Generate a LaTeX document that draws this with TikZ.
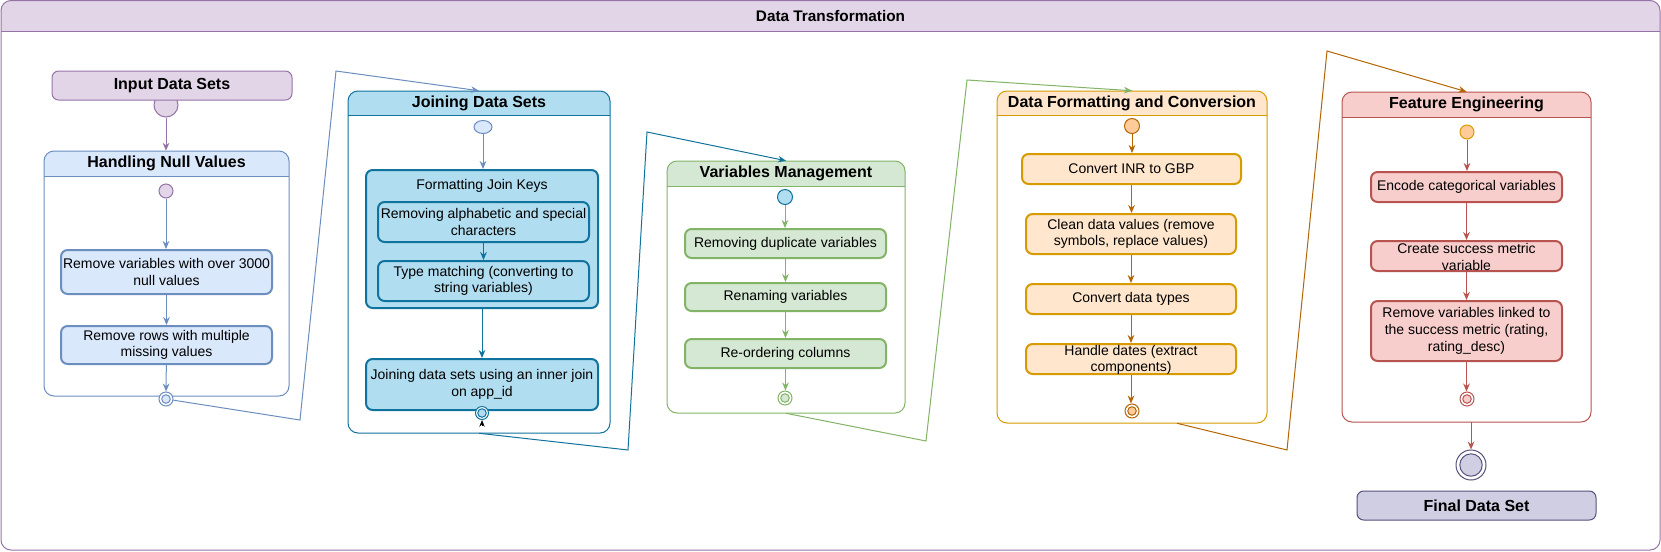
\documentclass[tikz,border=0pt]{standalone}
\usepackage{fontspec}
\setmainfont{Liberation Sans}
\usetikzlibrary{arrows.meta,fit,calc,shapes.geometric}
\definecolor{puL}{HTML}{E1D5E7}\definecolor{puD}{HTML}{9673A6}
\definecolor{blL}{HTML}{DAE8FC}\definecolor{blD}{HTML}{6C8EBF}
\definecolor{tlL}{HTML}{B1DDF0}\definecolor{tlD}{HTML}{10739E}
\definecolor{grL}{HTML}{D5E8D4}\definecolor{grD}{HTML}{82B366}
\definecolor{orL}{HTML}{FFE6CC}\definecolor{orD}{HTML}{D79B00}
\definecolor{orB}{HTML}{B46504}\definecolor{orM}{HTML}{FFCC99}
\definecolor{rdL}{HTML}{F8CECC}\definecolor{rdD}{HTML}{B85450}
\definecolor{lvL}{HTML}{D0CEE2}\definecolor{lvD}{HTML}{56517E}
\tikzset{
 hdr/.style={font=\fontsize{12}{14}\selectfont\bfseries, inner sep=0},
 body/.style={font=\fontsize{10.5}{12.5}\selectfont, align=center, inner sep=0},
 bx/.style 2 args={draw=#2, fill=#1, line width=1.5pt, rounded corners=5pt, align=center,
   font=\fontsize{10.5}{12.5}\selectfont, inner sep=1pt},
 sz/.style 2 args={minimum width=#1*0.75pt, minimum height=#2*0.75pt},
 ar/.style={-{Stealth[length=6pt,width=5pt]}, line width=0.75pt, draw=#1},
 ini/.style 2 args={circle, draw=#2, fill=#1, inner sep=0, minimum size=14*0.75pt, line width=0.75pt},
 fin/.style 2 args={circle, draw=#2, fill=white, inner sep=0, minimum size=14*0.75pt, line width=0.75pt,
   path picture={\draw[#2, fill=#1, line width=0.75pt] (path picture bounding box.center) circle (3.2pt);}},
}
\newcommand{\Cont}[8]{%
  \node[fit={(#2,#3) (#4,#5)}, inner sep=0, fill=white, rounded corners=7.5pt] (#1) {};
  \begin{scope}
    \clip (#2-2,#3-2) rectangle (#4+2,#6);
    \fill[#7L, rounded corners=7.5pt] (#2,#3) rectangle (#4,#5);
  \end{scope}
  \draw[#7D, rounded corners=7.5pt, line width=0.75pt] (#2,#3) rectangle (#4,#5);
  \draw[#7D, line width=0.75pt] (#2,#6) -- (#4,#6);
  \node[hdr] (#1t) at ({(#2+#4)/2},{(#3+#6)/2}) {#8};
}
\begin{document}
\begin{tikzpicture}[x=0.75pt,y=-0.75pt]
\useasboundingbox (0,0) rectangle (1661,551);
% outer
\Cont{outer}{1}{0.5}{1660}{550}{31}{pu}{\fontsize{11.5}{13}\selectfont Data Transformation}
% containers
\Cont{nullc}{44}{151}{289}{396}{176}{bl}{Handling Null Values}
\Cont{jc}{348}{91}{610}{433}{115}{tl}{Joining Data Sets}
\Cont{vc}{667}{161}{905}{413}{186}{gr}{Variables Management}
\Cont{dfc}{997}{91}{1267}{423}{115}{or}{Data Formatting and Conversion}
\Cont{fec}{1342}{92}{1591}{422}{117}{rd}{Feature Engineering}

% input
\node[ini={puL}{puD}, minimum size=24*0.75pt] (inC) at (166,105) {};
\node[draw=puD, fill=puL, line width=0.75pt, rounded corners=5pt, sz={240}{29}, hdr] (inp) at (172,85.5) {Input Data Sets};
\draw[ar=puD] (inC) -- (inC |- nullc.north);

% null values
\node[ini={puL}{puD}] (n0) at (166,191) {};
\node[bx={blL}{blD}, sz={211}{44}] (n1) at (166.5,272) {Remove variables with over 3000\\null values};
\node[bx={blL}{blD}, sz={211}{38}] (n2) at (166.5,345) {Remove rows with multiple\\missing values};
\node[fin={blL}{blD}] (ne) at (166,399) {};
\draw[ar=blD] (n0) -- (n0 |- n1.north);
\draw[ar=blD] (n1) -- (n1 |- n2.north);
\draw[ar=blD] (n2) -- (ne);

% joining
\node[ellipse, draw=blD, fill=blL, minimum width=18*0.75pt, minimum height=13*0.75pt, inner sep=0, line width=0.75pt] (j0) at (483,127) {};
\node[draw=tlD, fill=tlL, line width=1.5pt, rounded corners=5pt, sz={232}{138}] (fjk) at (482,239) {};
\node[body] (fjkt) at (482,186) {Formatting Join Keys};
\node[bx={tlL}{tlD}, sz={211}{40}] (j1) at (483.5,222) {Removing alphabetic and special\\characters};
\node[bx={tlL}{tlD}, sz={211}{40}] (j2) at (483.5,281) {Type matching (converting to\\string variables)};
\node[bx={tlL}{tlD}, sz={232}{51}] (j3) at (482,384.5) {Joining data sets using an inner join\\on app\_id};
\node[fin={tlL}{tlD}, minimum size=13*0.75pt] (je) at (482,413) {};
\coordinate (jbk) at (482,426);
\draw[ar=blD] (j0) -- (j0 |- fjk.north);
\draw[ar=tlD] (j1) -- (j1 |- j2.north);
\draw[ar=tlD] (fjk) -- (fjk |- j3.north);
\draw[-{Stealth[length=5pt,width=4pt]}, line width=0.75pt, black] (jbk) -- (je);

% variables
\node[ini={tlL}{tlD}, minimum size=15*0.75pt] (v0) at (785,197) {};
\node[bx={grL}{grD}, sz={201}{29}] (v1) at (785.5,243.5) {Removing duplicate variables};
\node[bx={grL}{grD}, sz={201}{28}] (v2) at (785.5,297) {Renaming variables};
\node[bx={grL}{grD}, sz={201}{29}] (v3) at (785.5,353.5) {Re-ordering columns};
\node[fin={grL}{grD}] (ve) at (785,398) {};
\draw[ar=grD] (v0) -- (v0 |- v1.north);
\draw[ar=grD] (v1) -- (v1 |- v2.north);
\draw[ar=grD] (v2) -- (v2 |- v3.north);
\draw[ar=grD] (v3) -- (v3 |- ve.north);

% data formatting
\node[ini={orM}{orB}, minimum size=15*0.75pt] (d0) at (1132,126) {};
\node[bx={orL}{orD}, sz={219}{30}] (d1) at (1131.5,169) {Convert INR to GBP};
\node[bx={orL}{orD}, sz={210}{40}] (d2) at (1131,234) {Clean data values (remove\\symbols, replace values)};
\node[bx={orL}{orD}, sz={210}{30}] (d3) at (1131,299) {Convert data types};
\node[bx={orL}{orD}, sz={210}{30}] (d4) at (1131,359) {};
\node[body] (d4t) at (1131,360) {Handle dates (extract\\components)};
\node[fin={orM}{orB}] (de) at (1132,411) {};
\draw[ar=orB] (d0) -- (d0 |- d1.north);
\draw[ar=orB] (d1) -- (d1 |- d2.north);
\draw[ar=orB] (d2) -- (d2 |- d3.north);
\draw[ar=orB] (d3) -- (d3 |- d4.north);
\draw[ar=orB] (d4) -- (d4 |- de.north);

% feature engineering
\node[ini={orM}{orD}] (f0) at (1467,132) {};
\node[bx={rdL}{rdD}, sz={191}{30}] (f1) at (1466.5,187) {Encode categorical variables};
\node[bx={rdL}{rdD}, sz={191}{30}] (f2) at (1466.5,256) {};
\node[body] (f2t) at (1466.5,257) {Create success metric\\variable};
\node[bx={rdL}{rdD}, sz={191}{60}] (f3) at (1466.5,331) {Remove variables linked to\\the success metric (rating,\\rating\_desc)};
\node[fin={rdL}{rdD}] (fe) at (1467,399) {};
\draw[ar=rdD] (f0) -- (f0 |- f1.north);
\draw[ar=rdD] (f1) -- (f1 |- f2.north);
\draw[ar=rdD] (f2) -- (f2 |- f3.north);
\draw[ar=rdD] (f3) -- (f3 |- fe.north);

% final
\node[circle, draw=lvD, fill=white, line width=0.75pt, minimum size=30*0.75pt, inner sep=0,
  path picture={\draw[lvD, fill=lvL, line width=0.75pt] (path picture bounding box.center) circle (8.4pt);}] (fin) at (1471,465) {};
\node[draw=lvD, fill=lvL, line width=0.75pt, rounded corners=5pt, sz={239}{29}, hdr] (fds) at (1476.5,505.5) {Final Data Set};
\draw[ar=rdD] (fec.south -| fin) -- (fin);

% stage connectors
\coordinate (c1a) at (300,420); \coordinate (c1b) at (336,71);
\draw[ar=blD] (ne) -- (c1a) -- (c1b) -- (jc.north);
\coordinate (c2a) at (628,450); \coordinate (c2b) at (647,132);
\draw[ar=tlD] (jc.south) -- (c2a) -- (c2b) -- (vc.north);
\coordinate (c3a) at (926,441); \coordinate (c3b) at (967,80);
\draw[ar=grD] (vc.south) -- (c3a) -- (c3b) -- (dfc.north);
\coordinate (c4s) at ($(dfc.south)+(45,0)$);
\coordinate (c4a) at (1287,450); \coordinate (c4b) at (1327,51);
\draw[ar=orB] (c4s) -- (c4a) -- (c4b) -- (fec.north);
\end{tikzpicture}
\end{document}
